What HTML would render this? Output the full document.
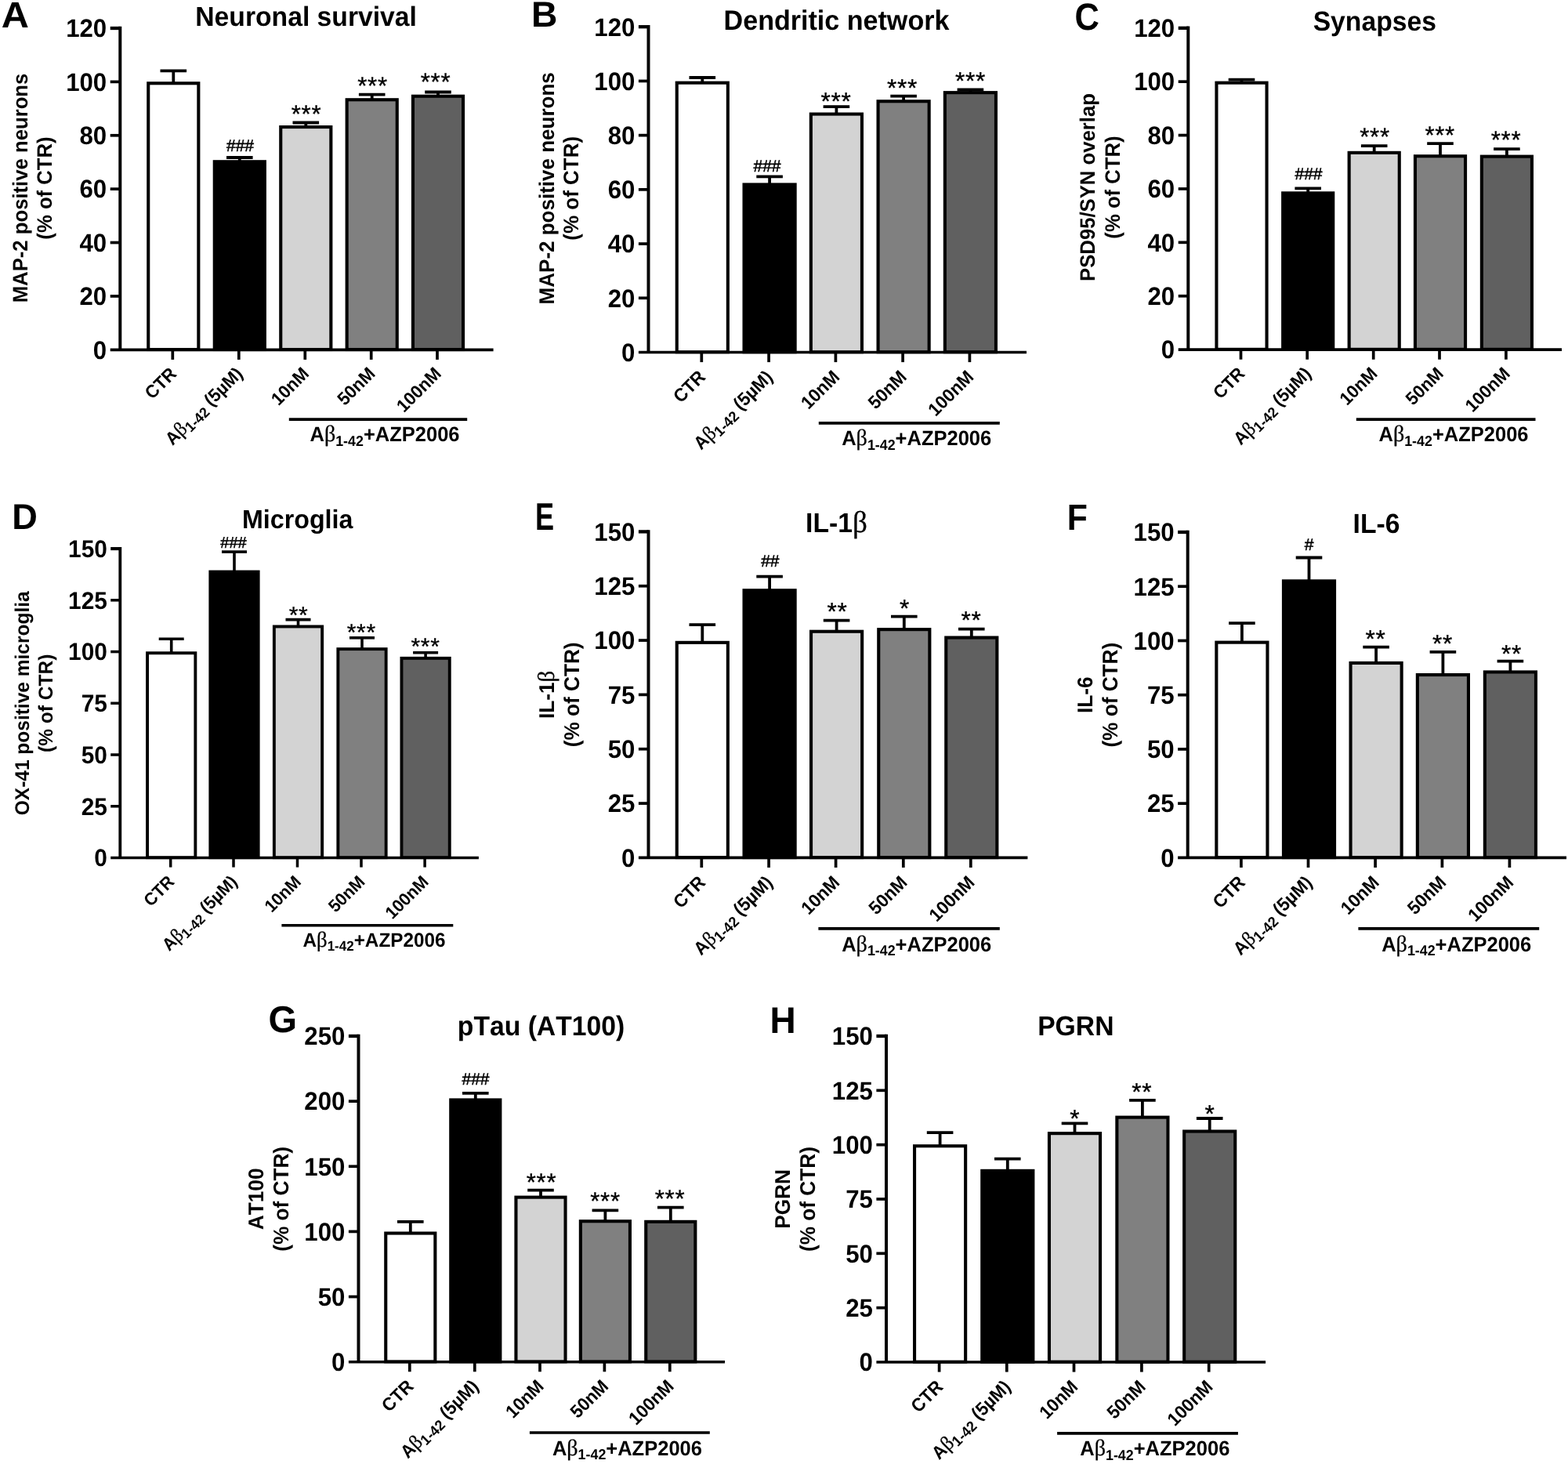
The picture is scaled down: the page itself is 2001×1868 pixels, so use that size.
<!DOCTYPE html>
<html lang="en">
<head>
<meta charset="utf-8">
<title>AZP2006 effects on neurons exposed to Aβ1-42</title>
<style>
html,body{margin:0;padding:0;background:#fff;}
body{width:2001px;height:1868px;overflow:hidden;}
svg{display:block;}
svg text{font-family:"Liberation Sans",Arial,Helvetica,sans-serif;fill:#000;}
svg line{stroke:#000;fill:none;}
svg rect.b{stroke:#000;}
svg text{font-kerning:none;text-rendering:geometricPrecision;}
</style>
</head>
<body>
<svg width="2001" height="1868" viewBox="0 0 2001 1868">
<rect x="0" y="0" width="2001" height="1868" fill="#ffffff" stroke="none"/>
<g class="panel" id="panel-A">
<line x1="221.30" y1="90.30" x2="221.30" y2="106.25" stroke-width="3.8"/>
<line x1="204.50" y1="90.30" x2="238.10" y2="90.30" stroke-width="3.8"/>
<rect x="189.25" y="106.25" width="64.10" height="339.75" fill="#ffffff" stroke-width="4.1" class="b"/>
<line x1="305.80" y1="201.00" x2="305.80" y2="206.25" stroke-width="3.8"/>
<line x1="289.00" y1="201.00" x2="322.60" y2="201.00" stroke-width="3.8"/>
<rect x="273.75" y="206.25" width="64.10" height="239.75" fill="#000000" stroke-width="4.1" class="b"/>
<line x1="390.30" y1="156.50" x2="390.30" y2="162.05" stroke-width="3.8"/>
<line x1="373.50" y1="156.50" x2="407.10" y2="156.50" stroke-width="3.8"/>
<rect x="358.25" y="162.05" width="64.10" height="283.95" fill="#d3d3d3" stroke-width="4.1" class="b"/>
<line x1="474.70" y1="120.70" x2="474.70" y2="127.25" stroke-width="3.8"/>
<line x1="457.90" y1="120.70" x2="491.50" y2="120.70" stroke-width="3.8"/>
<rect x="442.65" y="127.25" width="64.10" height="318.75" fill="#808080" stroke-width="4.1" class="b"/>
<line x1="559.00" y1="117.50" x2="559.00" y2="122.75" stroke-width="3.8"/>
<line x1="542.20" y1="117.50" x2="575.80" y2="117.50" stroke-width="3.8"/>
<rect x="526.95" y="122.75" width="64.10" height="323.25" fill="#606060" stroke-width="4.1" class="b"/>
<line x1="153.30" y1="33.75" x2="153.30" y2="446.30" stroke-width="4.0"/>
<line x1="140.70" y1="446.30" x2="629.60" y2="446.30" stroke-width="3.65"/>
<text transform="translate(136.20 457.60) scale(1 1.04)" font-size="31.2" font-weight="bold" text-anchor="end">0</text>
<line x1="140.70" y1="377.92" x2="153.30" y2="377.92" stroke-width="3.7"/>
<text transform="translate(136.20 389.22) scale(1 1.04)" font-size="31.2" font-weight="bold" text-anchor="end">20</text>
<line x1="140.70" y1="309.53" x2="153.30" y2="309.53" stroke-width="3.7"/>
<text transform="translate(136.20 320.83) scale(1 1.04)" font-size="31.2" font-weight="bold" text-anchor="end">40</text>
<line x1="140.70" y1="241.15" x2="153.30" y2="241.15" stroke-width="3.7"/>
<text transform="translate(136.20 252.45) scale(1 1.04)" font-size="31.2" font-weight="bold" text-anchor="end">60</text>
<line x1="140.70" y1="172.77" x2="153.30" y2="172.77" stroke-width="3.7"/>
<text transform="translate(136.20 184.07) scale(1 1.04)" font-size="31.2" font-weight="bold" text-anchor="end">80</text>
<line x1="140.70" y1="104.38" x2="153.30" y2="104.38" stroke-width="3.7"/>
<text transform="translate(136.20 115.68) scale(1 1.04)" font-size="31.2" font-weight="bold" text-anchor="end">100</text>
<line x1="140.70" y1="36.00" x2="153.30" y2="36.00" stroke-width="4.3"/>
<text transform="translate(136.20 47.30) scale(1 1.04)" font-size="31.2" font-weight="bold" text-anchor="end">120</text>
<line x1="220.30" y1="446.30" x2="220.30" y2="458.90" stroke-width="3.7"/>
<text transform="translate(226.60 478.30) rotate(-45) scale(1 1.04)" font-size="22.2" font-weight="bold" text-anchor="end">CTR</text>
<line x1="304.80" y1="446.30" x2="304.80" y2="458.90" stroke-width="3.7"/>
<text transform="translate(311.10 478.30) rotate(-45) scale(1 1.04)" font-size="22.2" font-weight="bold" text-anchor="end">A<tspan font-family="'Liberation Serif', 'DejaVu Serif', serif" font-weight="normal" font-size="24.42" stroke="#000" stroke-width="0.3">β</tspan><tspan font-size="17.76" dy="4.44">1-42</tspan><tspan dy="-4.44"> (5µM)</tspan></text>
<line x1="389.30" y1="446.30" x2="389.30" y2="458.90" stroke-width="3.7"/>
<text transform="translate(395.60 478.30) rotate(-45) scale(1 1.04)" font-size="22.2" font-weight="bold" text-anchor="end">10nM</text>
<line x1="473.70" y1="446.30" x2="473.70" y2="458.90" stroke-width="3.7"/>
<text transform="translate(480.00 478.30) rotate(-45) scale(1 1.04)" font-size="22.2" font-weight="bold" text-anchor="end">50nM</text>
<line x1="558.00" y1="446.30" x2="558.00" y2="458.90" stroke-width="3.7"/>
<text transform="translate(564.30 478.30) rotate(-45) scale(1 1.04)" font-size="22.2" font-weight="bold" text-anchor="end">100nM</text>
<line x1="368.80" y1="535.20" x2="596.20" y2="535.20" stroke-width="3.7"/>
<text transform="translate(491.00 563.40) scale(1 1.04)" font-size="25.5" font-weight="bold" text-anchor="middle">A<tspan font-family="'Liberation Serif', 'DejaVu Serif', serif" font-weight="normal" font-size="28.05" stroke="#000" stroke-width="0.3">β</tspan><tspan font-size="17.85" dy="5.10">1-42</tspan><tspan dy="-5.10">+AZP2006</tspan></text>
<text transform="translate(390.60 33.40) scale(1 1.04)" font-size="33.7" font-weight="bold" text-anchor="middle">Neuronal survival</text>
<text transform="translate(1.80 34.60)" font-size="46.4" font-weight="bold" text-anchor="start" textLength="35.2" lengthAdjust="spacingAndGlyphs">A</text>
<text transform="translate(34.50 240.00) rotate(-90) scale(1 1.04)" font-size="25.7" font-weight="bold" text-anchor="middle">MAP-2 positive neurons</text>
<text transform="translate(65.50 240.00) rotate(-90) scale(1 1.04)" font-size="25.7" font-weight="bold" text-anchor="middle">(% of CTR)</text>
<text transform="translate(306.50 192.50)" font-size="21" font-weight="normal" text-anchor="middle" stroke="#000" stroke-width="0.55">###</text>
<text transform="translate(391.00 156.40)" font-size="31.2" font-weight="normal" text-anchor="middle" stroke="#000" stroke-width="0.35" letter-spacing="0.7">***</text>
<text transform="translate(475.50 120.40)" font-size="31.2" font-weight="normal" text-anchor="middle" stroke="#000" stroke-width="0.35" letter-spacing="0.7">***</text>
<text transform="translate(556.00 115.40)" font-size="31.2" font-weight="normal" text-anchor="middle" stroke="#000" stroke-width="0.35" letter-spacing="0.7">***</text>
</g>
<g class="panel" id="panel-B">
<line x1="896.30" y1="99.00" x2="896.30" y2="105.65" stroke-width="3.8"/>
<line x1="879.50" y1="99.00" x2="913.10" y2="99.00" stroke-width="3.8"/>
<rect x="863.75" y="105.65" width="65.10" height="343.55" fill="#ffffff" stroke-width="4.1" class="b"/>
<line x1="982.10" y1="225.40" x2="982.10" y2="235.45" stroke-width="3.8"/>
<line x1="965.30" y1="225.40" x2="998.90" y2="225.40" stroke-width="3.8"/>
<rect x="949.55" y="235.45" width="65.10" height="213.75" fill="#000000" stroke-width="4.1" class="b"/>
<line x1="1067.40" y1="136.20" x2="1067.40" y2="145.55" stroke-width="3.8"/>
<line x1="1050.60" y1="136.20" x2="1084.20" y2="136.20" stroke-width="3.8"/>
<rect x="1034.85" y="145.55" width="65.10" height="303.65" fill="#d3d3d3" stroke-width="4.1" class="b"/>
<line x1="1153.10" y1="122.70" x2="1153.10" y2="129.25" stroke-width="3.8"/>
<line x1="1136.30" y1="122.70" x2="1169.90" y2="122.70" stroke-width="3.8"/>
<rect x="1120.55" y="129.25" width="65.10" height="319.95" fill="#808080" stroke-width="4.1" class="b"/>
<line x1="1238.40" y1="114.50" x2="1238.40" y2="118.15" stroke-width="3.8"/>
<line x1="1221.60" y1="114.50" x2="1255.20" y2="114.50" stroke-width="3.8"/>
<rect x="1205.85" y="118.15" width="65.10" height="331.05" fill="#606060" stroke-width="4.1" class="b"/>
<line x1="827.50" y1="31.95" x2="827.50" y2="449.50" stroke-width="4.0"/>
<line x1="814.90" y1="449.50" x2="1310.00" y2="449.50" stroke-width="3.65"/>
<text transform="translate(810.40 460.80) scale(1 1.04)" font-size="31.2" font-weight="bold" text-anchor="end">0</text>
<line x1="814.90" y1="380.28" x2="827.50" y2="380.28" stroke-width="3.7"/>
<text transform="translate(810.40 391.58) scale(1 1.04)" font-size="31.2" font-weight="bold" text-anchor="end">20</text>
<line x1="814.90" y1="311.07" x2="827.50" y2="311.07" stroke-width="3.7"/>
<text transform="translate(810.40 322.37) scale(1 1.04)" font-size="31.2" font-weight="bold" text-anchor="end">40</text>
<line x1="814.90" y1="241.85" x2="827.50" y2="241.85" stroke-width="3.7"/>
<text transform="translate(810.40 253.15) scale(1 1.04)" font-size="31.2" font-weight="bold" text-anchor="end">60</text>
<line x1="814.90" y1="172.63" x2="827.50" y2="172.63" stroke-width="3.7"/>
<text transform="translate(810.40 183.93) scale(1 1.04)" font-size="31.2" font-weight="bold" text-anchor="end">80</text>
<line x1="814.90" y1="103.42" x2="827.50" y2="103.42" stroke-width="3.7"/>
<text transform="translate(810.40 114.72) scale(1 1.04)" font-size="31.2" font-weight="bold" text-anchor="end">100</text>
<line x1="814.90" y1="34.20" x2="827.50" y2="34.20" stroke-width="4.3"/>
<text transform="translate(810.40 45.50) scale(1 1.04)" font-size="31.2" font-weight="bold" text-anchor="end">120</text>
<line x1="895.30" y1="449.50" x2="895.30" y2="462.10" stroke-width="3.7"/>
<text transform="translate(901.60 482.50) rotate(-45) scale(1 1.04)" font-size="22.6" font-weight="bold" text-anchor="end">CTR</text>
<line x1="981.10" y1="449.50" x2="981.10" y2="462.10" stroke-width="3.7"/>
<text transform="translate(987.40 482.50) rotate(-45) scale(1 1.04)" font-size="22.6" font-weight="bold" text-anchor="end">A<tspan font-family="'Liberation Serif', 'DejaVu Serif', serif" font-weight="normal" font-size="24.86" stroke="#000" stroke-width="0.3">β</tspan><tspan font-size="18.08" dy="4.52">1-42</tspan><tspan dy="-4.52"> (5µM)</tspan></text>
<line x1="1066.40" y1="449.50" x2="1066.40" y2="462.10" stroke-width="3.7"/>
<text transform="translate(1072.70 482.50) rotate(-45) scale(1 1.04)" font-size="22.6" font-weight="bold" text-anchor="end">10nM</text>
<line x1="1152.10" y1="449.50" x2="1152.10" y2="462.10" stroke-width="3.7"/>
<text transform="translate(1158.40 482.50) rotate(-45) scale(1 1.04)" font-size="22.6" font-weight="bold" text-anchor="end">50nM</text>
<line x1="1237.40" y1="449.50" x2="1237.40" y2="462.10" stroke-width="3.7"/>
<text transform="translate(1243.70 482.50) rotate(-45) scale(1 1.04)" font-size="22.6" font-weight="bold" text-anchor="end">100nM</text>
<line x1="1044.80" y1="539.90" x2="1275.80" y2="539.90" stroke-width="3.7"/>
<text transform="translate(1169.70 568.40) scale(1 1.04)" font-size="25.5" font-weight="bold" text-anchor="middle">A<tspan font-family="'Liberation Serif', 'DejaVu Serif', serif" font-weight="normal" font-size="28.05" stroke="#000" stroke-width="0.3">β</tspan><tspan font-size="17.85" dy="5.10">1-42</tspan><tspan dy="-5.10">+AZP2006</tspan></text>
<text transform="translate(1067.50 38.20) scale(1 1.04)" font-size="34.1" font-weight="bold" text-anchor="middle">Dendritic network</text>
<text transform="translate(678.00 34.30)" font-size="45.8" font-weight="bold" text-anchor="start" textLength="33.4" lengthAdjust="spacingAndGlyphs">B</text>
<text transform="translate(707.00 240.30) rotate(-90) scale(1 1.04)" font-size="26" font-weight="bold" text-anchor="middle">MAP-2 positive neurons</text>
<text transform="translate(738.00 240.30) rotate(-90) scale(1 1.04)" font-size="26" font-weight="bold" text-anchor="middle">(% of CTR)</text>
<text transform="translate(979.00 218.80)" font-size="21" font-weight="normal" text-anchor="middle" stroke="#000" stroke-width="0.55">###</text>
<text transform="translate(1067.00 140.40)" font-size="31.6" font-weight="normal" text-anchor="middle" stroke="#000" stroke-width="0.35" letter-spacing="0.7">***</text>
<text transform="translate(1151.50 123.40)" font-size="31.6" font-weight="normal" text-anchor="middle" stroke="#000" stroke-width="0.35" letter-spacing="0.7">***</text>
<text transform="translate(1238.50 114.40)" font-size="31.6" font-weight="normal" text-anchor="middle" stroke="#000" stroke-width="0.35" letter-spacing="0.7">***</text>
</g>
<g class="panel" id="panel-C">
<line x1="1584.50" y1="101.60" x2="1584.50" y2="105.65" stroke-width="3.8"/>
<line x1="1567.70" y1="101.60" x2="1601.30" y2="101.60" stroke-width="3.8"/>
<rect x="1552.45" y="105.65" width="64.10" height="340.15" fill="#ffffff" stroke-width="4.1" class="b"/>
<line x1="1669.20" y1="240.40" x2="1669.20" y2="246.35" stroke-width="3.8"/>
<line x1="1652.40" y1="240.40" x2="1686.00" y2="240.40" stroke-width="3.8"/>
<rect x="1637.15" y="246.35" width="64.10" height="199.45" fill="#000000" stroke-width="4.1" class="b"/>
<line x1="1753.70" y1="186.10" x2="1753.70" y2="194.85" stroke-width="3.8"/>
<line x1="1736.90" y1="186.10" x2="1770.50" y2="186.10" stroke-width="3.8"/>
<rect x="1721.65" y="194.85" width="64.10" height="250.95" fill="#d3d3d3" stroke-width="4.1" class="b"/>
<line x1="1838.00" y1="183.10" x2="1838.00" y2="199.25" stroke-width="3.8"/>
<line x1="1821.20" y1="183.10" x2="1854.80" y2="183.10" stroke-width="3.8"/>
<rect x="1805.95" y="199.25" width="64.10" height="246.55" fill="#808080" stroke-width="4.1" class="b"/>
<line x1="1922.90" y1="190.10" x2="1922.90" y2="199.65" stroke-width="3.8"/>
<line x1="1906.10" y1="190.10" x2="1939.70" y2="190.10" stroke-width="3.8"/>
<rect x="1890.85" y="199.65" width="64.10" height="246.15" fill="#606060" stroke-width="4.1" class="b"/>
<line x1="1516.30" y1="33.55" x2="1516.30" y2="446.10" stroke-width="4.0"/>
<line x1="1503.70" y1="446.10" x2="1993.00" y2="446.10" stroke-width="3.65"/>
<text transform="translate(1499.20 457.40) scale(1 1.04)" font-size="31.2" font-weight="bold" text-anchor="end">0</text>
<line x1="1503.70" y1="377.72" x2="1516.30" y2="377.72" stroke-width="3.7"/>
<text transform="translate(1499.20 389.02) scale(1 1.04)" font-size="31.2" font-weight="bold" text-anchor="end">20</text>
<line x1="1503.70" y1="309.33" x2="1516.30" y2="309.33" stroke-width="3.7"/>
<text transform="translate(1499.20 320.63) scale(1 1.04)" font-size="31.2" font-weight="bold" text-anchor="end">40</text>
<line x1="1503.70" y1="240.95" x2="1516.30" y2="240.95" stroke-width="3.7"/>
<text transform="translate(1499.20 252.25) scale(1 1.04)" font-size="31.2" font-weight="bold" text-anchor="end">60</text>
<line x1="1503.70" y1="172.57" x2="1516.30" y2="172.57" stroke-width="3.7"/>
<text transform="translate(1499.20 183.87) scale(1 1.04)" font-size="31.2" font-weight="bold" text-anchor="end">80</text>
<line x1="1503.70" y1="104.18" x2="1516.30" y2="104.18" stroke-width="3.7"/>
<text transform="translate(1499.20 115.48) scale(1 1.04)" font-size="31.2" font-weight="bold" text-anchor="end">100</text>
<line x1="1503.70" y1="35.80" x2="1516.30" y2="35.80" stroke-width="4.3"/>
<text transform="translate(1499.20 47.10) scale(1 1.04)" font-size="31.2" font-weight="bold" text-anchor="end">120</text>
<line x1="1583.50" y1="446.10" x2="1583.50" y2="458.70" stroke-width="3.7"/>
<text transform="translate(1589.80 478.10) rotate(-45) scale(1 1.04)" font-size="22.2" font-weight="bold" text-anchor="end">CTR</text>
<line x1="1668.20" y1="446.10" x2="1668.20" y2="458.70" stroke-width="3.7"/>
<text transform="translate(1674.50 478.10) rotate(-45) scale(1 1.04)" font-size="22.2" font-weight="bold" text-anchor="end">A<tspan font-family="'Liberation Serif', 'DejaVu Serif', serif" font-weight="normal" font-size="24.42" stroke="#000" stroke-width="0.3">β</tspan><tspan font-size="17.76" dy="4.44">1-42</tspan><tspan dy="-4.44"> (5µM)</tspan></text>
<line x1="1752.70" y1="446.10" x2="1752.70" y2="458.70" stroke-width="3.7"/>
<text transform="translate(1759.00 478.10) rotate(-45) scale(1 1.04)" font-size="22.2" font-weight="bold" text-anchor="end">10nM</text>
<line x1="1837.00" y1="446.10" x2="1837.00" y2="458.70" stroke-width="3.7"/>
<text transform="translate(1843.30 478.10) rotate(-45) scale(1 1.04)" font-size="22.2" font-weight="bold" text-anchor="end">50nM</text>
<line x1="1921.90" y1="446.10" x2="1921.90" y2="458.70" stroke-width="3.7"/>
<text transform="translate(1928.20 478.10) rotate(-45) scale(1 1.04)" font-size="22.2" font-weight="bold" text-anchor="end">100nM</text>
<line x1="1730.80" y1="535.20" x2="1959.50" y2="535.20" stroke-width="3.7"/>
<text transform="translate(1855.00 563.40) scale(1 1.04)" font-size="25.5" font-weight="bold" text-anchor="middle">A<tspan font-family="'Liberation Serif', 'DejaVu Serif', serif" font-weight="normal" font-size="28.05" stroke="#000" stroke-width="0.3">β</tspan><tspan font-size="17.85" dy="5.10">1-42</tspan><tspan dy="-5.10">+AZP2006</tspan></text>
<text transform="translate(1754.30 39.20) scale(1 1.04)" font-size="33.7" font-weight="bold" text-anchor="middle">Synapses</text>
<text transform="translate(1371.40 37.50)" font-size="48.5" font-weight="bold" text-anchor="start" textLength="31.4" lengthAdjust="spacingAndGlyphs">C</text>
<text transform="translate(1397.00 239.00) rotate(-90) scale(1 1.04)" font-size="25.7" font-weight="bold" text-anchor="middle">PSD95/SYN overlap</text>
<text transform="translate(1428.50 239.00) rotate(-90) scale(1 1.04)" font-size="25.7" font-weight="bold" text-anchor="middle">(% of CTR)</text>
<text transform="translate(1670.00 228.90)" font-size="21" font-weight="normal" text-anchor="middle" stroke="#000" stroke-width="0.55">###</text>
<text transform="translate(1754.50 184.90)" font-size="31.2" font-weight="normal" text-anchor="middle" stroke="#000" stroke-width="0.35" letter-spacing="0.7">***</text>
<text transform="translate(1837.70 183.40)" font-size="31.2" font-weight="normal" text-anchor="middle" stroke="#000" stroke-width="0.35" letter-spacing="0.7">***</text>
<text transform="translate(1922.00 188.90)" font-size="31.2" font-weight="normal" text-anchor="middle" stroke="#000" stroke-width="0.35" letter-spacing="0.7">***</text>
</g>
<g class="panel" id="panel-D">
<line x1="218.70" y1="815.20" x2="218.70" y2="833.25" stroke-width="3.6"/>
<line x1="202.70" y1="815.20" x2="234.70" y2="815.20" stroke-width="3.6"/>
<rect x="188.05" y="833.25" width="61.30" height="260.95" fill="#ffffff" stroke-width="3.9" class="b"/>
<line x1="299.00" y1="704.10" x2="299.00" y2="729.55" stroke-width="3.6"/>
<line x1="283.00" y1="704.10" x2="315.00" y2="704.10" stroke-width="3.6"/>
<rect x="268.35" y="729.55" width="61.30" height="364.65" fill="#000000" stroke-width="3.9" class="b"/>
<line x1="380.50" y1="790.60" x2="380.50" y2="799.45" stroke-width="3.6"/>
<line x1="364.50" y1="790.60" x2="396.50" y2="790.60" stroke-width="3.6"/>
<rect x="349.85" y="799.45" width="61.30" height="294.75" fill="#d3d3d3" stroke-width="3.9" class="b"/>
<line x1="462.00" y1="813.80" x2="462.00" y2="828.15" stroke-width="3.6"/>
<line x1="446.00" y1="813.80" x2="478.00" y2="813.80" stroke-width="3.6"/>
<rect x="431.35" y="828.15" width="61.30" height="266.05" fill="#808080" stroke-width="3.9" class="b"/>
<line x1="543.10" y1="832.70" x2="543.10" y2="839.85" stroke-width="3.6"/>
<line x1="527.10" y1="832.70" x2="559.10" y2="832.70" stroke-width="3.6"/>
<rect x="512.45" y="839.85" width="61.30" height="254.35" fill="#606060" stroke-width="3.9" class="b"/>
<line x1="153.30" y1="697.95" x2="153.30" y2="1094.50" stroke-width="3.8"/>
<line x1="141.20" y1="1094.50" x2="610.90" y2="1094.50" stroke-width="3.4499999999999997"/>
<text transform="translate(136.90 1105.30) scale(1 1.04)" font-size="29.9" font-weight="bold" text-anchor="end">0</text>
<line x1="141.20" y1="1028.77" x2="153.30" y2="1028.77" stroke-width="3.5"/>
<text transform="translate(136.90 1039.57) scale(1 1.04)" font-size="29.9" font-weight="bold" text-anchor="end">25</text>
<line x1="141.20" y1="963.03" x2="153.30" y2="963.03" stroke-width="3.5"/>
<text transform="translate(136.90 973.83) scale(1 1.04)" font-size="29.9" font-weight="bold" text-anchor="end">50</text>
<line x1="141.20" y1="897.30" x2="153.30" y2="897.30" stroke-width="3.5"/>
<text transform="translate(136.90 908.10) scale(1 1.04)" font-size="29.9" font-weight="bold" text-anchor="end">75</text>
<line x1="141.20" y1="831.57" x2="153.30" y2="831.57" stroke-width="3.5"/>
<text transform="translate(136.90 842.37) scale(1 1.04)" font-size="29.9" font-weight="bold" text-anchor="end">100</text>
<line x1="141.20" y1="765.83" x2="153.30" y2="765.83" stroke-width="3.5"/>
<text transform="translate(136.90 776.63) scale(1 1.04)" font-size="29.9" font-weight="bold" text-anchor="end">125</text>
<line x1="141.20" y1="700.10" x2="153.30" y2="700.10" stroke-width="4.1"/>
<text transform="translate(136.90 710.90) scale(1 1.04)" font-size="29.9" font-weight="bold" text-anchor="end">150</text>
<line x1="217.70" y1="1094.50" x2="217.70" y2="1106.60" stroke-width="3.5"/>
<text transform="translate(223.70 1126.50) rotate(-45) scale(1 1.04)" font-size="21.5" font-weight="bold" text-anchor="end">CTR</text>
<line x1="298.00" y1="1094.50" x2="298.00" y2="1106.60" stroke-width="3.5"/>
<text transform="translate(304.00 1126.50) rotate(-45) scale(1 1.04)" font-size="21.5" font-weight="bold" text-anchor="end">A<tspan font-family="'Liberation Serif', 'DejaVu Serif', serif" font-weight="normal" font-size="23.65" stroke="#000" stroke-width="0.3">β</tspan><tspan font-size="17.2" dy="4.30">1-42</tspan><tspan dy="-4.30"> (5µM)</tspan></text>
<line x1="379.50" y1="1094.50" x2="379.50" y2="1106.60" stroke-width="3.5"/>
<text transform="translate(385.50 1126.50) rotate(-45) scale(1 1.04)" font-size="21.5" font-weight="bold" text-anchor="end">10nM</text>
<line x1="461.00" y1="1094.50" x2="461.00" y2="1106.60" stroke-width="3.5"/>
<text transform="translate(467.00 1126.50) rotate(-45) scale(1 1.04)" font-size="21.5" font-weight="bold" text-anchor="end">50nM</text>
<line x1="542.10" y1="1094.50" x2="542.10" y2="1106.60" stroke-width="3.5"/>
<text transform="translate(548.10 1126.50) rotate(-45) scale(1 1.04)" font-size="21.5" font-weight="bold" text-anchor="end">100nM</text>
<line x1="359.40" y1="1180.70" x2="578.30" y2="1180.70" stroke-width="3.5"/>
<text transform="translate(477.50 1207.90) scale(1 1.04)" font-size="24.3" font-weight="bold" text-anchor="middle">A<tspan font-family="'Liberation Serif', 'DejaVu Serif', serif" font-weight="normal" font-size="26.73" stroke="#000" stroke-width="0.3">β</tspan><tspan font-size="17.01" dy="4.86">1-42</tspan><tspan dy="-4.86">+AZP2006</tspan></text>
<text transform="translate(379.70 674.00) scale(1 1.04)" font-size="32.2" font-weight="bold" text-anchor="middle">Microglia</text>
<text transform="translate(15.20 674.70)" font-size="45.8" font-weight="bold" text-anchor="start" textLength="32.6" lengthAdjust="spacingAndGlyphs">D</text>
<text transform="translate(37.00 897.30) rotate(-90) scale(1 1.04)" font-size="24.5" font-weight="bold" text-anchor="middle">OX-41 positive microglia</text>
<text transform="translate(66.60 897.30) rotate(-90) scale(1 1.04)" font-size="24.5" font-weight="bold" text-anchor="middle">(% of CTR)</text>
<text transform="translate(298.00 699.00)" font-size="20" font-weight="normal" text-anchor="middle" stroke="#000" stroke-width="0.55">###</text>
<text transform="translate(381.00 794.90)" font-size="30" font-weight="normal" text-anchor="middle" stroke="#000" stroke-width="0.35" letter-spacing="0.7">**</text>
<text transform="translate(461.30 816.90)" font-size="30" font-weight="normal" text-anchor="middle" stroke="#000" stroke-width="0.35" letter-spacing="0.7">***</text>
<text transform="translate(543.00 835.40)" font-size="30" font-weight="normal" text-anchor="middle" stroke="#000" stroke-width="0.35" letter-spacing="0.7">***</text>
</g>
<g class="panel" id="panel-E">
<line x1="896.30" y1="797.10" x2="896.30" y2="819.85" stroke-width="3.8"/>
<line x1="879.50" y1="797.10" x2="913.10" y2="797.10" stroke-width="3.8"/>
<rect x="863.75" y="819.85" width="65.10" height="274.25" fill="#ffffff" stroke-width="4.1" class="b"/>
<line x1="982.10" y1="735.70" x2="982.10" y2="753.25" stroke-width="3.8"/>
<line x1="965.30" y1="735.70" x2="998.90" y2="735.70" stroke-width="3.8"/>
<rect x="949.55" y="753.25" width="65.10" height="340.85" fill="#000000" stroke-width="4.1" class="b"/>
<line x1="1067.60" y1="791.60" x2="1067.60" y2="805.75" stroke-width="3.8"/>
<line x1="1050.80" y1="791.60" x2="1084.40" y2="791.60" stroke-width="3.8"/>
<rect x="1035.05" y="805.75" width="65.10" height="288.35" fill="#d3d3d3" stroke-width="4.1" class="b"/>
<line x1="1153.80" y1="786.60" x2="1153.80" y2="803.15" stroke-width="3.8"/>
<line x1="1137.00" y1="786.60" x2="1170.60" y2="786.60" stroke-width="3.8"/>
<rect x="1121.25" y="803.15" width="65.10" height="290.95" fill="#808080" stroke-width="4.1" class="b"/>
<line x1="1239.80" y1="802.70" x2="1239.80" y2="813.55" stroke-width="3.8"/>
<line x1="1223.00" y1="802.70" x2="1256.60" y2="802.70" stroke-width="3.8"/>
<rect x="1207.25" y="813.55" width="65.10" height="280.55" fill="#606060" stroke-width="4.1" class="b"/>
<line x1="827.50" y1="676.15" x2="827.50" y2="1094.40" stroke-width="4.0"/>
<line x1="814.90" y1="1094.40" x2="1311.40" y2="1094.40" stroke-width="3.65"/>
<text transform="translate(810.40 1105.70) scale(1 1.04)" font-size="31.2" font-weight="bold" text-anchor="end">0</text>
<line x1="814.90" y1="1025.07" x2="827.50" y2="1025.07" stroke-width="3.7"/>
<text transform="translate(810.40 1036.37) scale(1 1.04)" font-size="31.2" font-weight="bold" text-anchor="end">25</text>
<line x1="814.90" y1="955.73" x2="827.50" y2="955.73" stroke-width="3.7"/>
<text transform="translate(810.40 967.03) scale(1 1.04)" font-size="31.2" font-weight="bold" text-anchor="end">50</text>
<line x1="814.90" y1="886.40" x2="827.50" y2="886.40" stroke-width="3.7"/>
<text transform="translate(810.40 897.70) scale(1 1.04)" font-size="31.2" font-weight="bold" text-anchor="end">75</text>
<line x1="814.90" y1="817.07" x2="827.50" y2="817.07" stroke-width="3.7"/>
<text transform="translate(810.40 828.37) scale(1 1.04)" font-size="31.2" font-weight="bold" text-anchor="end">100</text>
<line x1="814.90" y1="747.73" x2="827.50" y2="747.73" stroke-width="3.7"/>
<text transform="translate(810.40 759.03) scale(1 1.04)" font-size="31.2" font-weight="bold" text-anchor="end">125</text>
<line x1="814.90" y1="678.40" x2="827.50" y2="678.40" stroke-width="4.3"/>
<text transform="translate(810.40 689.70) scale(1 1.04)" font-size="31.2" font-weight="bold" text-anchor="end">150</text>
<line x1="895.30" y1="1094.40" x2="895.30" y2="1107.00" stroke-width="3.7"/>
<text transform="translate(901.60 1127.40) rotate(-45) scale(1 1.04)" font-size="22.6" font-weight="bold" text-anchor="end">CTR</text>
<line x1="981.10" y1="1094.40" x2="981.10" y2="1107.00" stroke-width="3.7"/>
<text transform="translate(987.40 1127.40) rotate(-45) scale(1 1.04)" font-size="22.6" font-weight="bold" text-anchor="end">A<tspan font-family="'Liberation Serif', 'DejaVu Serif', serif" font-weight="normal" font-size="24.86" stroke="#000" stroke-width="0.3">β</tspan><tspan font-size="18.08" dy="4.52">1-42</tspan><tspan dy="-4.52"> (5µM)</tspan></text>
<line x1="1066.60" y1="1094.40" x2="1066.60" y2="1107.00" stroke-width="3.7"/>
<text transform="translate(1072.90 1127.40) rotate(-45) scale(1 1.04)" font-size="22.6" font-weight="bold" text-anchor="end">10nM</text>
<line x1="1152.80" y1="1094.40" x2="1152.80" y2="1107.00" stroke-width="3.7"/>
<text transform="translate(1159.10 1127.40) rotate(-45) scale(1 1.04)" font-size="22.6" font-weight="bold" text-anchor="end">50nM</text>
<line x1="1238.80" y1="1094.40" x2="1238.80" y2="1107.00" stroke-width="3.7"/>
<text transform="translate(1245.10 1127.40) rotate(-45) scale(1 1.04)" font-size="22.6" font-weight="bold" text-anchor="end">100nM</text>
<line x1="1044.40" y1="1184.90" x2="1275.80" y2="1184.90" stroke-width="3.7"/>
<text transform="translate(1169.70 1213.90) scale(1 1.04)" font-size="25.5" font-weight="bold" text-anchor="middle">A<tspan font-family="'Liberation Serif', 'DejaVu Serif', serif" font-weight="normal" font-size="28.05" stroke="#000" stroke-width="0.3">β</tspan><tspan font-size="17.85" dy="5.10">1-42</tspan><tspan dy="-5.10">+AZP2006</tspan></text>
<text transform="translate(1067.40 679.20) scale(1 1.04)" font-size="33.7" font-weight="bold" text-anchor="middle">IL-1<tspan font-family="'Liberation Serif', 'DejaVu Serif', serif" font-weight="normal" font-size="37.07" stroke="#000" stroke-width="0.3">β</tspan></text>
<text transform="translate(683.10 675.70)" font-size="49.1" font-weight="bold" text-anchor="start" textLength="24.1" lengthAdjust="spacingAndGlyphs">E</text>
<text transform="translate(706.50 886.40) rotate(-90) scale(1 1.04)" font-size="26.2" font-weight="bold" text-anchor="middle">IL-1<tspan font-family="'Liberation Serif', 'DejaVu Serif', serif" font-weight="normal" font-size="28.82" stroke="#000" stroke-width="0.3">β</tspan></text>
<text transform="translate(738.50 886.40) rotate(-90) scale(1 1.04)" font-size="26.2" font-weight="bold" text-anchor="middle">(% of CTR)</text>
<text transform="translate(982.80 723.10)" font-size="21" font-weight="normal" text-anchor="middle" stroke="#000" stroke-width="0.55">##</text>
<text transform="translate(1068.60 790.90)" font-size="31.6" font-weight="normal" text-anchor="middle" stroke="#000" stroke-width="0.35" letter-spacing="0.7">**</text>
<text transform="translate(1154.40 786.90)" font-size="31.6" font-weight="normal" text-anchor="middle" stroke="#000" stroke-width="0.35" letter-spacing="0.7">*</text>
<text transform="translate(1239.50 801.90)" font-size="31.6" font-weight="normal" text-anchor="middle" stroke="#000" stroke-width="0.35" letter-spacing="0.7">**</text>
</g>
<g class="panel" id="panel-F">
<line x1="1584.90" y1="795.10" x2="1584.90" y2="819.65" stroke-width="3.8"/>
<line x1="1568.10" y1="795.10" x2="1601.70" y2="795.10" stroke-width="3.8"/>
<rect x="1552.35" y="819.65" width="65.10" height="274.45" fill="#ffffff" stroke-width="4.1" class="b"/>
<line x1="1670.50" y1="711.50" x2="1670.50" y2="741.35" stroke-width="3.8"/>
<line x1="1653.70" y1="711.50" x2="1687.30" y2="711.50" stroke-width="3.8"/>
<rect x="1637.95" y="741.35" width="65.10" height="352.75" fill="#000000" stroke-width="4.1" class="b"/>
<line x1="1756.10" y1="825.60" x2="1756.10" y2="845.95" stroke-width="3.8"/>
<line x1="1739.30" y1="825.60" x2="1772.90" y2="825.60" stroke-width="3.8"/>
<rect x="1723.55" y="845.95" width="65.10" height="248.15" fill="#d3d3d3" stroke-width="4.1" class="b"/>
<line x1="1841.40" y1="831.90" x2="1841.40" y2="861.05" stroke-width="3.8"/>
<line x1="1824.60" y1="831.90" x2="1858.20" y2="831.90" stroke-width="3.8"/>
<rect x="1808.85" y="861.05" width="65.10" height="233.05" fill="#808080" stroke-width="4.1" class="b"/>
<line x1="1927.40" y1="843.70" x2="1927.40" y2="857.45" stroke-width="3.8"/>
<line x1="1910.60" y1="843.70" x2="1944.20" y2="843.70" stroke-width="3.8"/>
<rect x="1894.85" y="857.45" width="65.10" height="236.65" fill="#606060" stroke-width="4.1" class="b"/>
<line x1="1515.70" y1="676.75" x2="1515.70" y2="1094.40" stroke-width="4.0"/>
<line x1="1503.10" y1="1094.40" x2="1999.00" y2="1094.40" stroke-width="3.65"/>
<text transform="translate(1498.60 1105.70) scale(1 1.04)" font-size="31.2" font-weight="bold" text-anchor="end">0</text>
<line x1="1503.10" y1="1025.17" x2="1515.70" y2="1025.17" stroke-width="3.7"/>
<text transform="translate(1498.60 1036.47) scale(1 1.04)" font-size="31.2" font-weight="bold" text-anchor="end">25</text>
<line x1="1503.10" y1="955.93" x2="1515.70" y2="955.93" stroke-width="3.7"/>
<text transform="translate(1498.60 967.23) scale(1 1.04)" font-size="31.2" font-weight="bold" text-anchor="end">50</text>
<line x1="1503.10" y1="886.70" x2="1515.70" y2="886.70" stroke-width="3.7"/>
<text transform="translate(1498.60 898.00) scale(1 1.04)" font-size="31.2" font-weight="bold" text-anchor="end">75</text>
<line x1="1503.10" y1="817.47" x2="1515.70" y2="817.47" stroke-width="3.7"/>
<text transform="translate(1498.60 828.77) scale(1 1.04)" font-size="31.2" font-weight="bold" text-anchor="end">100</text>
<line x1="1503.10" y1="748.23" x2="1515.70" y2="748.23" stroke-width="3.7"/>
<text transform="translate(1498.60 759.53) scale(1 1.04)" font-size="31.2" font-weight="bold" text-anchor="end">125</text>
<line x1="1503.10" y1="679.00" x2="1515.70" y2="679.00" stroke-width="4.3"/>
<text transform="translate(1498.60 690.30) scale(1 1.04)" font-size="31.2" font-weight="bold" text-anchor="end">150</text>
<line x1="1583.90" y1="1094.40" x2="1583.90" y2="1107.00" stroke-width="3.7"/>
<text transform="translate(1590.20 1127.40) rotate(-45) scale(1 1.04)" font-size="22.6" font-weight="bold" text-anchor="end">CTR</text>
<line x1="1669.50" y1="1094.40" x2="1669.50" y2="1107.00" stroke-width="3.7"/>
<text transform="translate(1675.80 1127.40) rotate(-45) scale(1 1.04)" font-size="22.6" font-weight="bold" text-anchor="end">A<tspan font-family="'Liberation Serif', 'DejaVu Serif', serif" font-weight="normal" font-size="24.86" stroke="#000" stroke-width="0.3">β</tspan><tspan font-size="18.08" dy="4.52">1-42</tspan><tspan dy="-4.52"> (5µM)</tspan></text>
<line x1="1755.10" y1="1094.40" x2="1755.10" y2="1107.00" stroke-width="3.7"/>
<text transform="translate(1761.40 1127.40) rotate(-45) scale(1 1.04)" font-size="22.6" font-weight="bold" text-anchor="end">10nM</text>
<line x1="1840.40" y1="1094.40" x2="1840.40" y2="1107.00" stroke-width="3.7"/>
<text transform="translate(1846.70 1127.40) rotate(-45) scale(1 1.04)" font-size="22.6" font-weight="bold" text-anchor="end">50nM</text>
<line x1="1926.40" y1="1094.40" x2="1926.40" y2="1107.00" stroke-width="3.7"/>
<text transform="translate(1932.70 1127.40) rotate(-45) scale(1 1.04)" font-size="22.6" font-weight="bold" text-anchor="end">100nM</text>
<line x1="1733.40" y1="1184.90" x2="1964.20" y2="1184.90" stroke-width="3.7"/>
<text transform="translate(1858.70 1213.90) scale(1 1.04)" font-size="25.5" font-weight="bold" text-anchor="middle">A<tspan font-family="'Liberation Serif', 'DejaVu Serif', serif" font-weight="normal" font-size="28.05" stroke="#000" stroke-width="0.3">β</tspan><tspan font-size="17.85" dy="5.10">1-42</tspan><tspan dy="-5.10">+AZP2006</tspan></text>
<text transform="translate(1756.50 680.00) scale(1 1.04)" font-size="33.7" font-weight="bold" text-anchor="middle">IL-6</text>
<text transform="translate(1361.70 676.30)" font-size="46.7" font-weight="bold" text-anchor="start" textLength="26.1" lengthAdjust="spacingAndGlyphs">F</text>
<text transform="translate(1393.50 886.70) rotate(-90) scale(1 1.04)" font-size="26.2" font-weight="bold" text-anchor="middle">IL-6</text>
<text transform="translate(1426.00 886.70) rotate(-90) scale(1 1.04)" font-size="26.2" font-weight="bold" text-anchor="middle">(% of CTR)</text>
<text transform="translate(1670.50 702.40)" font-size="21" font-weight="normal" text-anchor="middle" stroke="#000" stroke-width="0.55">#</text>
<text transform="translate(1755.50 826.10)" font-size="31.6" font-weight="normal" text-anchor="middle" stroke="#000" stroke-width="0.35" letter-spacing="0.7">**</text>
<text transform="translate(1841.00 832.40)" font-size="31.6" font-weight="normal" text-anchor="middle" stroke="#000" stroke-width="0.35" letter-spacing="0.7">**</text>
<text transform="translate(1929.00 845.40)" font-size="31.6" font-weight="normal" text-anchor="middle" stroke="#000" stroke-width="0.35" letter-spacing="0.7">**</text>
</g>
<g class="panel" id="panel-G">
<line x1="523.80" y1="1558.80" x2="523.80" y2="1573.55" stroke-width="3.8"/>
<line x1="507.00" y1="1558.80" x2="540.60" y2="1558.80" stroke-width="3.8"/>
<rect x="492.25" y="1573.55" width="63.10" height="163.85" fill="#ffffff" stroke-width="4.1" class="b"/>
<line x1="606.80" y1="1394.80" x2="606.80" y2="1403.45" stroke-width="3.8"/>
<line x1="590.00" y1="1394.80" x2="623.60" y2="1394.80" stroke-width="3.8"/>
<rect x="575.25" y="1403.45" width="63.10" height="333.95" fill="#000000" stroke-width="4.1" class="b"/>
<line x1="690.00" y1="1518.60" x2="690.00" y2="1527.65" stroke-width="3.8"/>
<line x1="673.20" y1="1518.60" x2="706.80" y2="1518.60" stroke-width="3.8"/>
<rect x="658.45" y="1527.65" width="63.10" height="209.75" fill="#d3d3d3" stroke-width="4.1" class="b"/>
<line x1="772.40" y1="1544.30" x2="772.40" y2="1558.25" stroke-width="3.8"/>
<line x1="755.60" y1="1544.30" x2="789.20" y2="1544.30" stroke-width="3.8"/>
<rect x="740.85" y="1558.25" width="63.10" height="179.15" fill="#808080" stroke-width="4.1" class="b"/>
<line x1="855.80" y1="1540.70" x2="855.80" y2="1558.85" stroke-width="3.8"/>
<line x1="839.00" y1="1540.70" x2="872.60" y2="1540.70" stroke-width="3.8"/>
<rect x="824.25" y="1558.85" width="63.10" height="178.55" fill="#606060" stroke-width="4.1" class="b"/>
<line x1="457.50" y1="1319.75" x2="457.50" y2="1737.70" stroke-width="4.0"/>
<line x1="444.90" y1="1737.70" x2="925.00" y2="1737.70" stroke-width="3.65"/>
<text transform="translate(440.40 1749.00) scale(1 1.04)" font-size="31.2" font-weight="bold" text-anchor="end">0</text>
<line x1="444.90" y1="1654.56" x2="457.50" y2="1654.56" stroke-width="3.7"/>
<text transform="translate(440.40 1665.86) scale(1 1.04)" font-size="31.2" font-weight="bold" text-anchor="end">50</text>
<line x1="444.90" y1="1571.42" x2="457.50" y2="1571.42" stroke-width="3.7"/>
<text transform="translate(440.40 1582.72) scale(1 1.04)" font-size="31.2" font-weight="bold" text-anchor="end">100</text>
<line x1="444.90" y1="1488.28" x2="457.50" y2="1488.28" stroke-width="3.7"/>
<text transform="translate(440.40 1499.58) scale(1 1.04)" font-size="31.2" font-weight="bold" text-anchor="end">150</text>
<line x1="444.90" y1="1405.14" x2="457.50" y2="1405.14" stroke-width="3.7"/>
<text transform="translate(440.40 1416.44) scale(1 1.04)" font-size="31.2" font-weight="bold" text-anchor="end">200</text>
<line x1="444.90" y1="1322.00" x2="457.50" y2="1322.00" stroke-width="4.3"/>
<text transform="translate(440.40 1333.30) scale(1 1.04)" font-size="31.2" font-weight="bold" text-anchor="end">250</text>
<line x1="522.80" y1="1737.70" x2="522.80" y2="1750.30" stroke-width="3.7"/>
<text transform="translate(529.10 1770.20) rotate(-45) scale(1 1.04)" font-size="22.4" font-weight="bold" text-anchor="end">CTR</text>
<line x1="605.80" y1="1737.70" x2="605.80" y2="1750.30" stroke-width="3.7"/>
<text transform="translate(612.10 1770.20) rotate(-45) scale(1 1.04)" font-size="22.4" font-weight="bold" text-anchor="end">A<tspan font-family="'Liberation Serif', 'DejaVu Serif', serif" font-weight="normal" font-size="24.64" stroke="#000" stroke-width="0.3">β</tspan><tspan font-size="17.92" dy="4.48">1-42</tspan><tspan dy="-4.48"> (5µM)</tspan></text>
<line x1="689.00" y1="1737.70" x2="689.00" y2="1750.30" stroke-width="3.7"/>
<text transform="translate(695.30 1770.20) rotate(-45) scale(1 1.04)" font-size="22.4" font-weight="bold" text-anchor="end">10nM</text>
<line x1="771.40" y1="1737.70" x2="771.40" y2="1750.30" stroke-width="3.7"/>
<text transform="translate(777.70 1770.20) rotate(-45) scale(1 1.04)" font-size="22.4" font-weight="bold" text-anchor="end">50nM</text>
<line x1="854.80" y1="1737.70" x2="854.80" y2="1750.30" stroke-width="3.7"/>
<text transform="translate(861.10 1770.20) rotate(-45) scale(1 1.04)" font-size="22.4" font-weight="bold" text-anchor="end">100nM</text>
<line x1="675.90" y1="1828.00" x2="905.80" y2="1828.00" stroke-width="3.7"/>
<text transform="translate(800.40 1857.00) scale(1 1.04)" font-size="25.5" font-weight="bold" text-anchor="middle">A<tspan font-family="'Liberation Serif', 'DejaVu Serif', serif" font-weight="normal" font-size="28.05" stroke="#000" stroke-width="0.3">β</tspan><tspan font-size="17.85" dy="5.10">1-42</tspan><tspan dy="-5.10">+AZP2006</tspan></text>
<text transform="translate(690.50 1320.80) scale(1 1.04)" font-size="33.7" font-weight="bold" text-anchor="middle">pTau (AT100)</text>
<text transform="translate(342.40 1317.40)" font-size="47.6" font-weight="bold" text-anchor="start" textLength="36.6" lengthAdjust="spacingAndGlyphs">G</text>
<text transform="translate(335.50 1529.85) rotate(-90) scale(1 1.04)" font-size="26.2" font-weight="bold" text-anchor="middle">AT100</text>
<text transform="translate(367.50 1529.85) rotate(-90) scale(1 1.04)" font-size="26.2" font-weight="bold" text-anchor="middle">(% of CTR)</text>
<text transform="translate(607.00 1384.20)" font-size="21" font-weight="normal" text-anchor="middle" stroke="#000" stroke-width="0.55">###</text>
<text transform="translate(691.00 1518.90)" font-size="31.2" font-weight="normal" text-anchor="middle" stroke="#000" stroke-width="0.35" letter-spacing="0.7">***</text>
<text transform="translate(772.50 1542.90)" font-size="31.2" font-weight="normal" text-anchor="middle" stroke="#000" stroke-width="0.35" letter-spacing="0.7">***</text>
<text transform="translate(855.00 1540.40)" font-size="31.2" font-weight="normal" text-anchor="middle" stroke="#000" stroke-width="0.35" letter-spacing="0.7">***</text>
</g>
<g class="panel" id="panel-H">
<line x1="1199.60" y1="1445.10" x2="1199.60" y2="1462.25" stroke-width="3.8"/>
<line x1="1182.80" y1="1445.10" x2="1216.40" y2="1445.10" stroke-width="3.8"/>
<rect x="1167.05" y="1462.25" width="65.10" height="275.45" fill="#ffffff" stroke-width="4.1" class="b"/>
<line x1="1285.80" y1="1478.70" x2="1285.80" y2="1493.85" stroke-width="3.8"/>
<line x1="1269.00" y1="1478.70" x2="1302.60" y2="1478.70" stroke-width="3.8"/>
<rect x="1253.25" y="1493.85" width="65.10" height="243.85" fill="#000000" stroke-width="4.1" class="b"/>
<line x1="1371.50" y1="1433.40" x2="1371.50" y2="1446.15" stroke-width="3.8"/>
<line x1="1354.70" y1="1433.40" x2="1388.30" y2="1433.40" stroke-width="3.8"/>
<rect x="1338.95" y="1446.15" width="65.10" height="291.55" fill="#d3d3d3" stroke-width="4.1" class="b"/>
<line x1="1457.90" y1="1403.90" x2="1457.90" y2="1425.65" stroke-width="3.8"/>
<line x1="1441.10" y1="1403.90" x2="1474.70" y2="1403.90" stroke-width="3.8"/>
<rect x="1425.35" y="1425.65" width="65.10" height="312.05" fill="#808080" stroke-width="4.1" class="b"/>
<line x1="1543.70" y1="1427.00" x2="1543.70" y2="1443.55" stroke-width="3.8"/>
<line x1="1526.90" y1="1427.00" x2="1560.50" y2="1427.00" stroke-width="3.8"/>
<rect x="1511.15" y="1443.55" width="65.10" height="294.15" fill="#606060" stroke-width="4.1" class="b"/>
<line x1="1131.00" y1="1319.75" x2="1131.00" y2="1738.00" stroke-width="4.0"/>
<line x1="1118.40" y1="1738.00" x2="1615.10" y2="1738.00" stroke-width="3.65"/>
<text transform="translate(1113.90 1749.30) scale(1 1.04)" font-size="31.2" font-weight="bold" text-anchor="end">0</text>
<line x1="1118.40" y1="1668.67" x2="1131.00" y2="1668.67" stroke-width="3.7"/>
<text transform="translate(1113.90 1679.97) scale(1 1.04)" font-size="31.2" font-weight="bold" text-anchor="end">25</text>
<line x1="1118.40" y1="1599.33" x2="1131.00" y2="1599.33" stroke-width="3.7"/>
<text transform="translate(1113.90 1610.63) scale(1 1.04)" font-size="31.2" font-weight="bold" text-anchor="end">50</text>
<line x1="1118.40" y1="1530.00" x2="1131.00" y2="1530.00" stroke-width="3.7"/>
<text transform="translate(1113.90 1541.30) scale(1 1.04)" font-size="31.2" font-weight="bold" text-anchor="end">75</text>
<line x1="1118.40" y1="1460.67" x2="1131.00" y2="1460.67" stroke-width="3.7"/>
<text transform="translate(1113.90 1471.97) scale(1 1.04)" font-size="31.2" font-weight="bold" text-anchor="end">100</text>
<line x1="1118.40" y1="1391.33" x2="1131.00" y2="1391.33" stroke-width="3.7"/>
<text transform="translate(1113.90 1402.63) scale(1 1.04)" font-size="31.2" font-weight="bold" text-anchor="end">125</text>
<line x1="1118.40" y1="1322.00" x2="1131.00" y2="1322.00" stroke-width="4.3"/>
<text transform="translate(1113.90 1333.30) scale(1 1.04)" font-size="31.2" font-weight="bold" text-anchor="end">150</text>
<line x1="1198.60" y1="1738.00" x2="1198.60" y2="1750.60" stroke-width="3.7"/>
<text transform="translate(1204.90 1771.00) rotate(-45) scale(1 1.04)" font-size="22.6" font-weight="bold" text-anchor="end">CTR</text>
<line x1="1284.80" y1="1738.00" x2="1284.80" y2="1750.60" stroke-width="3.7"/>
<text transform="translate(1291.10 1771.00) rotate(-45) scale(1 1.04)" font-size="22.6" font-weight="bold" text-anchor="end">A<tspan font-family="'Liberation Serif', 'DejaVu Serif', serif" font-weight="normal" font-size="24.86" stroke="#000" stroke-width="0.3">β</tspan><tspan font-size="18.08" dy="4.52">1-42</tspan><tspan dy="-4.52"> (5µM)</tspan></text>
<line x1="1370.50" y1="1738.00" x2="1370.50" y2="1750.60" stroke-width="3.7"/>
<text transform="translate(1376.80 1771.00) rotate(-45) scale(1 1.04)" font-size="22.6" font-weight="bold" text-anchor="end">10nM</text>
<line x1="1456.90" y1="1738.00" x2="1456.90" y2="1750.60" stroke-width="3.7"/>
<text transform="translate(1463.20 1771.00) rotate(-45) scale(1 1.04)" font-size="22.6" font-weight="bold" text-anchor="end">50nM</text>
<line x1="1542.70" y1="1738.00" x2="1542.70" y2="1750.60" stroke-width="3.7"/>
<text transform="translate(1549.00 1771.00) rotate(-45) scale(1 1.04)" font-size="22.6" font-weight="bold" text-anchor="end">100nM</text>
<line x1="1349.10" y1="1828.80" x2="1579.90" y2="1828.80" stroke-width="3.7"/>
<text transform="translate(1473.80 1857.20) scale(1 1.04)" font-size="25.5" font-weight="bold" text-anchor="middle">A<tspan font-family="'Liberation Serif', 'DejaVu Serif', serif" font-weight="normal" font-size="28.05" stroke="#000" stroke-width="0.3">β</tspan><tspan font-size="17.85" dy="5.10">1-42</tspan><tspan dy="-5.10">+AZP2006</tspan></text>
<text transform="translate(1372.80 1321.00) scale(1 1.04)" font-size="33.7" font-weight="bold" text-anchor="middle">PGRN</text>
<text transform="translate(982.60 1317.90)" font-size="47.4" font-weight="bold" text-anchor="start" textLength="33.2" lengthAdjust="spacingAndGlyphs">H</text>
<text transform="translate(1008.00 1530.00) rotate(-90) scale(1 1.04)" font-size="26.2" font-weight="bold" text-anchor="middle">PGRN</text>
<text transform="translate(1040.00 1530.00) rotate(-90) scale(1 1.04)" font-size="26.2" font-weight="bold" text-anchor="middle">(% of CTR)</text>
<text transform="translate(1371.80 1437.90)" font-size="31.6" font-weight="normal" text-anchor="middle" stroke="#000" stroke-width="0.35" letter-spacing="0.7">*</text>
<text transform="translate(1457.20 1404.40)" font-size="31.6" font-weight="normal" text-anchor="middle" stroke="#000" stroke-width="0.35" letter-spacing="0.7">**</text>
<text transform="translate(1544.00 1431.90)" font-size="31.6" font-weight="normal" text-anchor="middle" stroke="#000" stroke-width="0.35" letter-spacing="0.7">*</text>
</g>
</svg>
</body>
</html>
